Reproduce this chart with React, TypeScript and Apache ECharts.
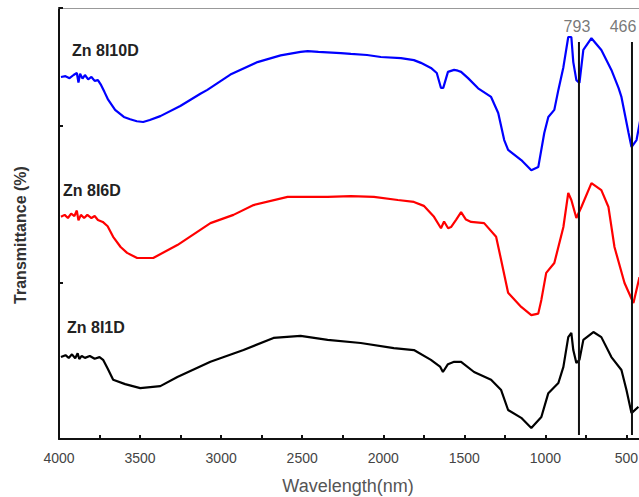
import React, { useEffect, useRef } from "react";
import * as echarts from "echarts";

// Wavenumbers (x) and transmittance (y, arbitrary offset units) for each sample
const zn8i10dWave = [3988, 3960, 3935, 3910, 3890, 3880, 3870, 3855, 3840, 3820, 3800, 3780, 3760, 3740, 3720, 3697, 3654, 3600, 3561, 3520, 3481, 3440, 3375, 3252, 3128, 3085, 2943, 2776, 2633, 2510, 2466, 2400, 2262, 2200, 2100, 2015, 1891, 1811, 1768, 1706, 1670, 1644, 1630, 1601, 1563, 1540, 1520, 1477, 1415, 1335, 1291, 1254, 1230, 1149, 1087, 1044, 1007, 982, 945, 920, 889, 859, 840, 828, 809, 790, 766, 716, 655, 593, 549, 531, 487, 469, 438, 415];
const zn8i10dT = [92.4, 92.6, 92.1, 92.9, 93.4, 91.0, 93.2, 92.0, 92.9, 91.8, 92.4, 91.4, 91.6, 90.3, 88.6, 86.6, 84.0, 82.2, 81.6, 81.1, 80.9, 81.4, 82.4, 85.0, 88.1, 89.1, 93.0, 96.2, 97.9, 98.8, 99.0, 98.8, 98.5, 98.3, 98.0, 97.5, 97.2, 96.7, 96.0, 94.7, 93.4, 89.6, 89.6, 93.7, 94.2, 94.0, 93.7, 92.1, 89.5, 87.3, 83.2, 76.3, 73.8, 71.2, 68.6, 69.4, 78.1, 82.2, 84.0, 89.1, 94.9, 102.6, 102.6, 96.2, 91.6, 90.9, 99.3, 102.3, 99.3, 94.2, 89.6, 87.3, 78.1, 74.5, 76.3, 81.4];

const zn8i6dWave = [3988, 3965, 3945, 3925, 3905, 3890, 3880, 3865, 3845, 3825, 3800, 3780, 3760, 3730, 3700, 3666, 3620, 3580, 3518, 3419, 3270, 3066, 2924, 2800, 2590, 2343, 2200, 2058, 1910, 1811, 1750, 1687, 1644, 1625, 1600, 1582, 1550, 1520, 1490, 1458, 1378, 1304, 1273, 1230, 1149, 1087, 1044, 1025, 995, 945, 889, 859, 840, 809, 778, 716, 655, 611, 574, 512, 457, 420];
const zn8i6dT = [56.7, 57.2, 56.4, 57.5, 56.9, 58.3, 55.8, 57.2, 56.4, 57.2, 56.4, 56.9, 55.9, 55.4, 54.3, 51.6, 49.0, 47.5, 46.2, 46.2, 49.5, 55.1, 57.2, 59.7, 61.8, 61.8, 62.0, 61.8, 61.0, 60.5, 59.5, 56.7, 53.8, 55.5, 53.8, 54.1, 56.0, 57.9, 56.0, 55.4, 55.1, 51.6, 45.7, 37.3, 33.7, 31.6, 32.0, 35.5, 42.4, 44.9, 54.1, 62.8, 61.0, 56.4, 59.2, 65.3, 63.5, 59.2, 49.0, 39.8, 34.7, 41.3];

const zn8i1dWave = [3988, 3960, 3940, 3920, 3900, 3885, 3875, 3860, 3840, 3810, 3780, 3750, 3728, 3700, 3666, 3592, 3499, 3375, 3270, 3066, 2862, 2677, 2510, 2343, 2139, 1935, 1811, 1706, 1650, 1632, 1601, 1563, 1520, 1440, 1335, 1273, 1230, 1149, 1087, 1025, 982, 920, 889, 859, 840, 828, 809, 790, 766, 704, 655, 593, 531, 500, 469, 426];
const zn8i1dT = [20.9, 21.4, 20.7, 21.6, 20.6, 21.9, 20.4, 21.2, 20.7, 21.2, 20.5, 20.9, 20.2, 18.0, 15.1, 14.0, 13.0, 13.5, 15.8, 19.7, 22.7, 25.8, 26.3, 25.3, 24.5, 23.2, 22.7, 20.2, 18.5, 17.1, 19.1, 19.7, 19.7, 17.1, 15.1, 12.5, 7.4, 5.4, 2.8, 5.6, 11.7, 14.3, 18.4, 26.0, 27.1, 22.7, 19.4, 20.2, 25.3, 27.3, 26.0, 20.9, 17.6, 12.5, 6.6, 8.2];

const seriesNames = ["Zn 8I10D", "Zn 8I6D", "Zn 8I1D"];
const seriesColors = ["#0000ff", "#ff0000", "#000000"];

const peakWaves = [793, 466];
const peakLineBottom = 1;
const peakLineTop = 101.3;

const xTickLabels = [4000, 3500, 3000, 2500, 2000, 1500, 1000, 500];

const zip = (xs: number[], ys: number[]) => xs.map((x, i) => [x, ys[i]]);

export default function App() {
  const ref = useRef<HTMLDivElement>(null);
  useEffect(() => {
    if (!ref.current) return;
    const chart = echarts.init(ref.current, null, { renderer: "svg" });
    const curves = [
      zip(zn8i10dWave, zn8i10dT),
      zip(zn8i6dWave, zn8i6dT),
      zip(zn8i1dWave, zn8i1dT),
    ];
    const curveSeries = curves.map((d, i) => ({
      type: "line",
      name: seriesNames[i],
      data: d,
      showSymbol: false,
      symbol: "none",
      lineStyle: { color: seriesColors[i], width: 2.2 },
      itemStyle: { color: seriesColors[i] },
      z: 3,
    }));
    const peakSeries = peakWaves.map((w) => ({
      type: "line",
      data: [
        [w, peakLineBottom],
        [w, peakLineTop],
      ],
      symbol: "none",
      lineStyle: { color: "#111", width: 2 },
      z: 4,
    }));
    const peakLabelSeries = {
      type: "scatter",
      symbolSize: 0,
      data: peakWaves.map((w, i) => ({
        value: [w, peakLineTop],
        label: {
          show: true,
          position: "top",
          distance: 8,
          offset: i === 1 ? [-9, 0] : [-2, 0],
          formatter: String(w),
          fontSize: 16,
          color: "#555",
          fontFamily: "Liberation Sans, Arial, sans-serif",
        },
      })),
      z: 5,
    };
    chart.setOption({
      animation: false,
      backgroundColor: "#fff",
      grid: {
        left: 59,
        top: 8,
        bottom: 58,
        right: -28,
        containLabel: false,
        outerBoundsMode: "none",
      },
      xAxis: [
        {
          type: "value",
          min: 250,
          max: 4000,
          interval: 250,
          inverse: true,
          axisLine: { show: true, lineStyle: { color: "#111", width: 2 } },
          axisTick: { show: true, inside: true, length: 4, lineStyle: { color: "#111", width: 2 } },
          splitLine: { show: false },
          axisLabel: {
            margin: 12,
            fontSize: 14,
            color: "#444",
            fontFamily: "Liberation Sans, Arial, sans-serif",
            formatter: (v: number) => (xTickLabels.includes(v) ? String(v) : ""),
          },
        },
        {
          type: "value",
          position: "top",
          min: 250,
          max: 4000,
          inverse: true,
          axisLine: { show: true, lineStyle: { color: "#999", width: 1 } },
          axisTick: { show: false },
          axisLabel: { show: false },
          splitLine: { show: false },
        },
      ],
      yAxis: {
        type: "value",
        min: 0,
        max: 110,
        interval: 40,
        axisLine: { show: true, lineStyle: { color: "#111", width: 2 } },
        axisTick: { show: true, inside: true, length: 4, lineStyle: { color: "#111", width: 2 } },
        axisLabel: { show: false },
        splitLine: { show: false },
      },
      series: [...curveSeries, ...peakSeries, peakLabelSeries],
      graphic: [
        {
          type: "text",
          x: 348,
          y: 486,
          style: {
            text: "Wavelength(nm)",
            fontSize: 18,
            fill: "#555",
            align: "center",
            verticalAlign: "middle",
            fontFamily: "Liberation Sans, Arial, sans-serif",
          },
        },
        {
          type: "text",
          x: 20,
          y: 235,
          rotation: Math.PI / 2,
          style: {
            text: "Transmittance (%)",
            fontSize: 16,
            fontWeight: "bold",
            fill: "#333",
            align: "center",
            verticalAlign: "middle",
            fontFamily: "Liberation Sans, Arial, sans-serif",
          },
        },
        ...seriesNames.map((n, i) => ({
          type: "text",
          left: [72, 63, 67][i],
          top: [42, 182, 319][i],
          style: {
            text: n,
            fontSize: 16,
            fontWeight: "bold",
            fill: "#222",
            fontFamily: "Liberation Sans, Arial, sans-serif",
          },
        })),
      ],
    });
    return () => chart.dispose();
  }, []);
  return (
    <div
      ref={ref}
      style={{ position: "fixed", left: 0, top: 0, width: 639, height: 497, background: "#fff" }}
    />
  );
}
